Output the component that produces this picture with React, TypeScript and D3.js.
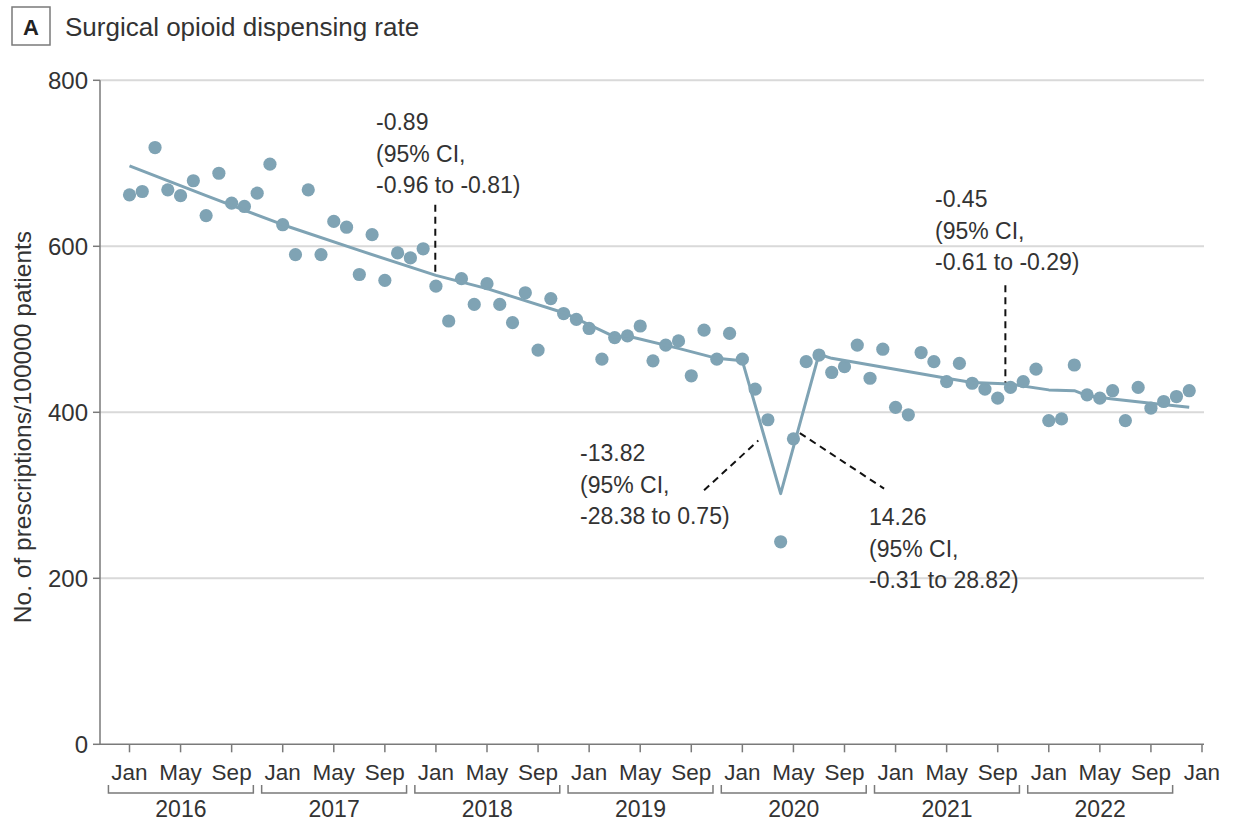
import React from "react";
import * as d3 from "d3";

// ---- data ----
const years = [2016, 2017, 2018, 2019, 2020, 2021, 2022];
const tickMonthNames = ["Jan", "May", "Sep"];
const yTicks = [0, 200, 400, 600, 800];

// monthly rate, Jan 2016 (index 0) .. Dec 2022 (index 83)
const rates = [
  662, 666, 719, 668, 661, 679, 637, 688, 652, 648, 664, 699,
  626, 590, 668, 590, 630, 623, 566, 614, 559, 592, 586, 597,
  552, 510, 561, 530, 555, 530, 508, 544, 475, 537, 519, 512,
  501, 464, 490, 492, 504, 462, 481, 486, 444, 499, 464, 495,
  464, 428, 391, 244, 368, 461, 469, 448, 455, 481, 441, 476,
  406, 397, 472, 461, 437, 459, 435, 428, 417, 430, 437, 452,
  390, 392, 457, 421, 417, 426, 390, 430, 405, 413, 419, 426,
];

// fitted segmented-regression line (month index, value)
const trendMonths = [0, 6, 12, 18, 24, 28, 34, 38, 39, 43, 46, 48, 51, 54, 55, 64, 66, 69, 72, 74, 75, 77, 80, 83];
const trendValues = [697, 661, 626, 595, 565, 549, 520, 491, 492, 477, 465, 462, 302, 470, 465, 441, 436, 434, 427, 426, 420, 416, 411, 406];

// annotations: text lines and leader line (month index, value) endpoints
const annLines = [
  ["-0.89", "(95% CI,", "-0.96 to -0.81)"],
  ["-0.45", "(95% CI,", "-0.61 to -0.29)"],
  ["-13.82", "(95% CI,", "-28.38 to 0.75)"],
  ["14.26", "(95% CI,", "-0.31 to 28.82)"],
];
const annTextX = [376, 935, 580, 869];
const annTextY = [130, 207, 461, 525];
const leaderFrom = [[23.95, 650], [68.6, 553], [45.0, 306], [52.5, 375]];
const leaderTo = [[23.95, 566], [68.6, 436], [49.25, 366], [59.1, 308]];

// ---- layout ----
const W = 1233;
const H = 821;
const FONT = "'Liberation Sans', Arial, sans-serif";
const TEXT = "#333";
const AXIS = "#7a7a7a";
const GRID = "#d9d9d9";
const MARK = "#7fa3b4";

export default function App() {
  const x = d3.scaleLinear().domain([0, 84]).range([129.5, 1202]);
  const y = d3.scaleLinear().domain([0, 800]).range([744.3, 80.3]);
  const axisLeft = 100;
  const axisRight = 1204;

  const line = d3
    .line<number>()
    .x((_, i) => x(trendMonths[i]))
    .y((d) => y(d));

  const tickIdx = d3.range(0, 85, 4);

  return (
    <svg
      width={W}
      height={H}
      style={{ position: "absolute", left: 0, top: 0, background: "#fff" }}
      fontFamily={FONT}
    >
      <rect x={0} y={0} width={W} height={H} fill="#fff" />
      {/* title */}
      <rect x={12} y={7} width={38} height={38} fill="none" stroke={AXIS} strokeWidth={1.5} />
      <text x={31} y={34.5} textAnchor="middle" fontSize={22} fontWeight="bold" fill="#222">
        A
      </text>
      <text x={65} y={36} fontSize={26} fill={TEXT}>
        Surgical opioid dispensing rate
      </text>

      {/* grid */}
      {yTicks.filter((t) => t > 0).map((t) => (
        <line key={"g" + t} x1={axisLeft} x2={axisRight} y1={y(t)} y2={y(t)} stroke={GRID} strokeWidth={2} />
      ))}

      {/* y axis */}
      <line x1={axisLeft} x2={axisLeft} y1={y(800)} y2={y(0)} stroke={AXIS} strokeWidth={1.5} />
      {yTicks.map((t) => (
        <g key={"yt" + t}>
          <line x1={axisLeft - 7} x2={axisLeft} y1={y(t)} y2={y(t)} stroke={AXIS} strokeWidth={1.5} />
          <text x={88} y={y(t)} dy="0.36em" textAnchor="end" fontSize={24} fill={TEXT}>
            {t}
          </text>
        </g>
      ))}
      <text
        transform={`translate(31, ${427}) rotate(-90)`}
        textAnchor="middle"
        fontSize={24.5}
        fill={TEXT}
      >
        No. of prescriptions/100000 patients
      </text>

      {/* x axis */}
      <line x1={axisLeft} x2={axisRight} y1={y(0)} y2={y(0)} stroke={AXIS} strokeWidth={1.5} />
      {tickIdx.map((m) => (
        <g key={"xt" + m}>
          <line x1={x(m)} x2={x(m)} y1={y(0)} y2={y(0) + 8} stroke={AXIS} strokeWidth={1.5} />
          <text x={x(m)} y={780} textAnchor="middle" fontSize={22.5} fill={TEXT}>
            {tickMonthNames[(m / 4) % 3]}
          </text>
        </g>
      ))}
      {years.map((yr, i) => {
        const x1 = x(i * 12 - 1.65);
        const x2 = x(i * 12 + 9.7);
        return (
          <g key={"yr" + yr}>
            <path
              d={`M${x1},785 L${x1},793 L${x2},793 L${x2},785`}
              fill="none"
              stroke={AXIS}
              strokeWidth={1.5}
            />
            <text x={(x1 + x2) / 2} y={817} textAnchor="middle" fontSize={23} fill={TEXT}>
              {yr}
            </text>
          </g>
        );
      })}

      {/* points */}
      {rates.map((v, i) => (
        <circle key={"p" + i} cx={x(i)} cy={y(v)} r={6.6} fill={MARK} />
      ))}

      {/* fitted line */}
      <path d={line(trendValues) || ""} fill="none" stroke={MARK} strokeWidth={3} strokeLinejoin="round" />

      {/* annotations */}
      {annLines.map((lines, k) => (
        <g key={"a" + k}>
          <line
            x1={x(leaderFrom[k][0])}
            y1={y(leaderFrom[k][1])}
            x2={x(leaderTo[k][0])}
            y2={y(leaderTo[k][1])}
            stroke="#111"
            strokeWidth={2}
            strokeDasharray="7,5"
          />
          {lines.map((s, j) => (
            <text key={j} x={annTextX[k]} y={annTextY[k] + j * 31.5} fontSize={23} fill={TEXT}>
              {s}
            </text>
          ))}
        </g>
      ))}
    </svg>
  );
}
